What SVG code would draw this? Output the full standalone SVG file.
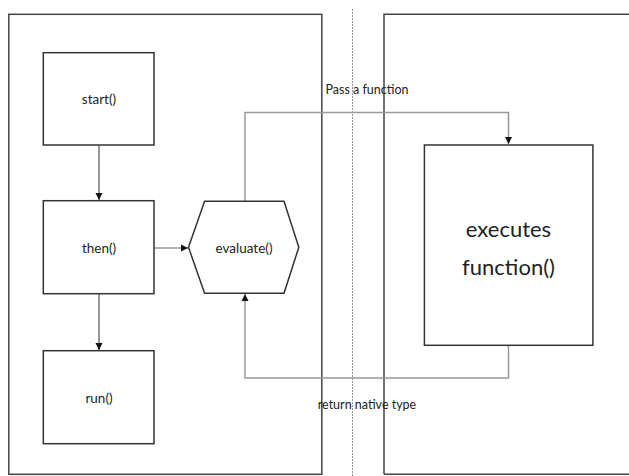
<svg xmlns="http://www.w3.org/2000/svg" width="629" height="476" viewBox="0 0 629 476">
<defs>
<style>
.panel{fill:none;stroke:#444;stroke-width:1.5}
.box{fill:#fff;stroke:#333;stroke-width:1.5}
.conn{fill:none;stroke:#999;stroke-width:1.5}
.dark{fill:none;stroke:#333;stroke-width:1}
.t{font-family:Lato,"Open Sans",sans-serif;font-size:13.5px;fill:#222;text-anchor:middle;dominant-baseline:central}
.lbl{font-size:12.5px}
.big{font-size:22px}
</style>
<marker id="ah" markerWidth="8" markerHeight="8" refX="7" refY="4" orient="auto" markerUnits="userSpaceOnUse">
<path d="M0,0.5 L7,4 L0,7.5 Z" fill="#111"/>
</marker>
</defs>
<rect width="629" height="476" fill="#fff"/>
<g id="panels">
<rect class="panel" x="8.8" y="14.3" width="313" height="460"/>
<path class="panel" d="M384,474.3 V14.3 H640"/>
<path d="M384,474.3 H640" class="panel"/>
<line x1="352.5" y1="9" x2="352.5" y2="476" stroke="#777" stroke-width="0.8" stroke-dasharray="2,1"/>
</g>
<g id="connectors">
<line class="dark" x1="99" y1="145" x2="99" y2="200" marker-end="url(#ah)"/>
<line class="dark" x1="99" y1="294" x2="99" y2="350" marker-end="url(#ah)"/>
<line class="conn" x1="154.5" y1="248" x2="188" y2="248" marker-end="url(#ah)"/>
<path class="conn" d="M245,201 V112.5 H508.5 V144" marker-end="url(#ah)"/>
<path class="conn" d="M508.5,345.5 V378 H245 V294" marker-end="url(#ah)"/>
</g>
<g id="start">
<rect class="box" x="43.3" y="52.7" width="110.7" height="92.3"/>
<text class="t" x="99" y="98.5">start()</text>
</g>
<g id="then">
<rect class="box" x="43.3" y="200.7" width="110.7" height="93"/>
<text class="t" x="99" y="248">then()</text>
</g>
<g id="run">
<rect class="box" x="43.3" y="350.7" width="110.7" height="93"/>
<text class="t" x="99" y="397.5">run()</text>
</g>
<g id="evaluate">
<polygon class="box" points="188.5,247.3 204.6,201.3 284,201.3 298.8,247.3 284,293.3 204.6,293.3"/>
<text class="t" x="244" y="248">evaluate()</text>
</g>
<g id="executes">
<rect class="box" x="424.4" y="145" width="168.5" height="200.3"/>
<text class="t big" x="508.5" y="228">executes</text>
<text class="t big" x="508.5" y="266">function()</text>
</g>
<g id="labels">
<text class="t lbl" x="367" y="89">Pass a function</text>
<text class="t lbl" x="367" y="404">return native type</text>
</g>
</svg>
